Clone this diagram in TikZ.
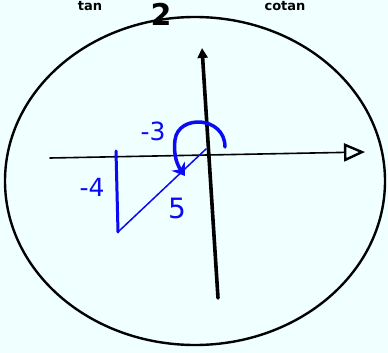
\documentclass[tikz,border=0pt]{standalone}
\usepackage{fontspec}
\setmainfont{DejaVu Sans}
\usetikzlibrary{arrows.meta, positioning}
\definecolor{bgAzure}{HTML}{F0FFFF}
\definecolor{penBlue}{HTML}{0A0AF5}

\begin{document}
\begin{tikzpicture}[
    x=1pt, y=-1pt,
    ink/.style={black, line cap=round, line join=round},
    blueink/.style={penBlue, line cap=round, line join=round},
    hand/.style={font=\fontsize{25}{25}\selectfont, text=penBlue, inner sep=0pt},
    toptext/.style={font=\fontsize{13}{13}\selectfont\bfseries, inner sep=0pt, anchor=base},
]
% ---- Page ----
\fill[bgAzure] (0,0) rectangle (388,353);
\useasboundingbox (0,0) rectangle (388,353);

% ---- Header ----
\node[toptext] (tTan) at (90,11) {tan};
\node[toptext, font=\fontsize{30}{30}\selectfont\bfseries] (tTwo) at (161,26) {2};
\node[toptext] (tCot) at (285,11) {cotan};

% ---- Unit circle ----
\draw[ink, line width=2.4pt] (195,181) ellipse [x radius=190, y radius=164];

% ---- Axes ----
\coordinate (xL) at (50,158);
\coordinate (xR) at (365,152);
\coordinate (yB) at (218,298);
\coordinate (yT) at (202,48);
\draw[ink, line width=1.6pt, -{Triangle[open, length=21pt, width=18pt, line width=2.4pt]}] (xL) -- (xR);
\draw[ink, line width=3.6pt, -{Triangle[length=10pt, width=10pt]}] (yB) -- (yT);

% ---- Triangle (blue) ----
\coordinate (pA) at (116,151);
\coordinate (pB) at (118,232);
\coordinate (pO) at (206,149);
\draw[blueink, line width=3pt] (pA) -- (pB);
\draw[blueink, line width=1.5pt] (pB) -- (pO);

% Angle arrow
\coordinate (aS) at (225,147);
\coordinate (aE) at (185,176);
\draw[blueink, line width=3.5pt, -{Stealth[length=12pt, width=16pt]}]
  (aS) .. controls (225,116) and (178,114) .. (175,140)
       .. controls (173,156) and (178,166) .. (aE);

% Labels
\node[hand] (lThree) at (153,131) {-3};
\node[hand] (lFour) at (92,187) {-4};
\node[hand, font=\fontsize{28}{28}\selectfont] (lFive) at (177,208) {5};

\end{tikzpicture}
\end{document}
